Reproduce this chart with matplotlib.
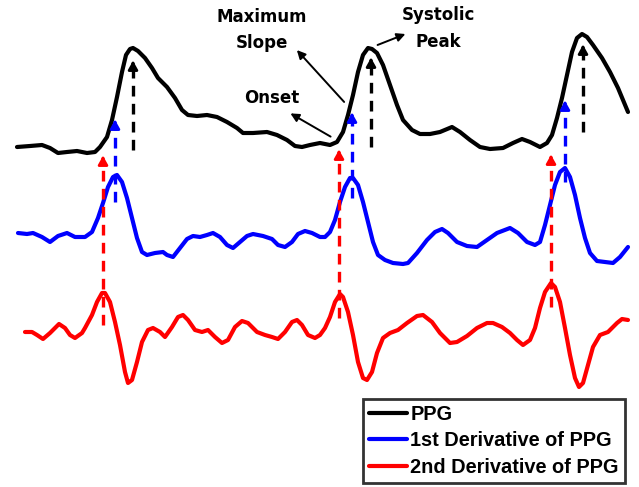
import matplotlib.pyplot as plt

# waveform traces (x = time, y = amplitude, screen units, down is positive)
ppg_x = [17, 30, 42, 50, 58, 67, 77, 87, 95, 100, 107, 112, 117, 122, 126, 130, 133, 138, 145, 152,
         158, 167, 175, 182, 188, 197, 207, 217, 227, 237, 243, 253, 267, 277, 287, 295, 302,
         310, 320, 330, 337, 343, 348, 353, 358, 363, 368, 372, 377, 383, 390, 397, 403, 412,
         420, 430, 440, 452, 460, 470, 480, 490, 503, 513, 522, 530, 540, 547, 552, 557, 562,
         567, 572, 577, 582, 587, 593, 602, 610, 618, 628]
ppg_y = [147, 146, 145, 148, 153, 152, 151, 153, 152, 147, 137, 120, 97, 72, 55, 49, 48, 51, 58, 68,
         78, 87, 98, 110, 115, 116, 115, 117, 122, 128, 133, 133, 132, 135, 140, 146, 147,
         145, 143, 145, 142, 132, 115, 95, 72, 55, 48, 49, 53, 65, 85, 105, 120, 130,
         134, 134, 132, 127, 132, 140, 147, 149, 148, 143, 139, 142, 147, 143, 135, 118, 98,
         75, 52, 38, 34, 37, 45, 58, 72, 88, 112]

d1_x = [18, 27, 33, 42, 50, 58, 67, 75, 85, 92, 98, 103, 108, 113, 117, 122, 127, 132, 137, 142,
        147, 155, 163, 167, 173, 180, 187, 193, 200, 207, 213, 220, 227, 233, 240, 247, 253,
        263, 272, 278, 285, 292, 298, 305, 312, 320, 325, 330, 335, 340, 345, 350, 353, 358,
        363, 368, 373, 378, 385, 393, 403, 408, 417, 427, 435, 442, 448, 457, 467, 477, 487,
        497, 510, 518, 527, 535, 540, 545, 550, 555, 560, 565, 570, 575, 580, 585, 590, 597,
        605, 613, 620, 628]
d1_y = [233, 234, 233, 237, 242, 236, 233, 237, 237, 232, 218, 203, 187, 177, 175, 182, 198, 218, 238, 252,
        255, 253, 252, 255, 257, 248, 239, 236, 237, 235, 233, 237, 245, 248, 242, 236, 234,
        236, 239, 245, 247, 242, 234, 231, 233, 237, 237, 232, 220, 202, 187, 178, 178, 185,
        202, 222, 242, 255, 260, 263, 264, 263, 253, 240, 232, 229, 233, 242, 246, 247, 240,
        233, 228, 233, 242, 245, 242, 225, 205, 185, 172, 168, 177, 195, 218, 238, 253, 261,
        262, 263, 257, 247]

d2_x = [25, 32, 37, 43, 50, 59, 65, 70, 75, 82, 85, 92, 97, 102, 105, 110, 115, 120, 125, 128,
        132, 137, 142, 148, 153, 160, 165, 172, 178, 183, 188, 195, 202, 208, 215, 222, 228,
        235, 242, 248, 257, 265, 272, 278, 285, 292, 297, 302, 308, 315, 320, 325, 330, 335,
        340, 343, 348, 353, 358, 363, 367, 372, 377, 383, 390, 398, 407, 417, 423, 432, 440,
        450, 457, 467, 477, 487, 493, 502, 510, 517, 523, 530, 535, 540, 545, 551, 555, 560,
        565, 570, 575, 579, 583, 588, 593, 600, 608, 617, 622, 628]
d2_y = [332, 332, 335, 339, 333, 324, 328, 335, 338, 333, 328, 315, 302, 293, 293, 302, 322, 345, 372, 383,
        380, 362, 342, 330, 328, 332, 337, 327, 317, 315, 320, 330, 332, 330, 337, 343, 340,
        327, 321, 323, 332, 335, 337, 339, 332, 322, 320, 325, 335, 338, 335, 328, 317, 302,
        294, 297, 312, 335, 362, 378, 380, 372, 353, 338, 333, 330, 323, 316, 315, 322, 333,
        343, 342, 336, 328, 323, 323, 327, 333, 340, 345, 340, 328, 308, 292, 283, 287, 302,
        328, 355, 378, 387, 383, 365, 347, 335, 332, 323, 319, 320]

# fiducial points per beat
onset_x = [103, 339, 551]
onset_top = [153, 147, 152]
onset_bottom = [325, 318, 307]
slope_x = [115, 352, 565]
slope_top = [117, 110, 98]
slope_bottom = [202, 198, 182]
peak_x = [133, 371, 583]
peak_top = [58, 55, 42]
peak_bottom = [150, 147, 132]

labels = ["PPG", "1st Derivative of PPG", "2nd Derivative of PPG"]
colores = ["black", "#0000ff", "#ff0000"]

fig = plt.figure(figsize=(6.39, 4.87), dpi=100)
ax = fig.add_axes([0, 0, 1, 1])
ax.set_xlim(0, 639)
ax.set_ylim(487, 0)
ax.axis("off")

lineas = []
for xs, ys, c, lab in zip([ppg_x, d1_x, d2_x], [ppg_y, d1_y, d2_y], colores, labels):
    l, = ax.plot(xs, ys, color=c, lw=3.0, solid_capstyle="round", solid_joinstyle="round", label=lab, zorder=3)
    lineas.append(l)


def flecha_punteada(x, top, bottom, color):
    ax.plot([x, x], [bottom, top + 8], color=color, lw=2.4, linestyle=(0, (3.2, 2.2)), zorder=4)
    ax.annotate("", xy=(x, top), xytext=(x, top + 9),
                arrowprops=dict(arrowstyle="-|>,head_length=0.5,head_width=0.28", color=color, lw=2.0),
                zorder=5)


for i in range(3):
    flecha_punteada(onset_x[i], onset_top[i], onset_bottom[i], colores[2])
    flecha_punteada(slope_x[i], slope_top[i], slope_bottom[i], colores[1])
    flecha_punteada(peak_x[i], peak_top[i], peak_bottom[i], colores[0])

fuente = dict(fontsize=12, fontweight="bold", family="DejaVu Sans", ha="center", va="center")
ax.text(262, 17, "Maximum", **fuente)
ax.text(262, 43, "Slope", **fuente)
ax.text(272, 98, "Onset", **fuente)
ax.text(438, 15, "Systolic", **fuente)
ax.text(438, 42, "Peak", **fuente)

flecha = dict(arrowstyle="-|>,head_length=0.5,head_width=0.25", color="black", lw=1.4)
ax.annotate("", xy=(295, 48), xytext=(346, 104), arrowprops=flecha)
ax.annotate("", xy=(288, 112), xytext=(333, 138), arrowprops=flecha)
ax.annotate("", xy=(408, 33), xytext=(375, 46), arrowprops=flecha)

leg = ax.legend(handles=lineas, loc="lower right", bbox_to_anchor=(625 / 639, 4 / 487),
                prop=dict(family="Liberation Sans", weight="bold", size=14.4),
                frameon=True, fancybox=False, handlelength=1.9, handletextpad=0.2,
                borderpad=0.3, labelspacing=0.38, borderaxespad=0)
leg.get_frame().set_edgecolor("black")
leg.get_frame().set_linewidth(2.0)

fig.savefig("out.png", dpi=100)
